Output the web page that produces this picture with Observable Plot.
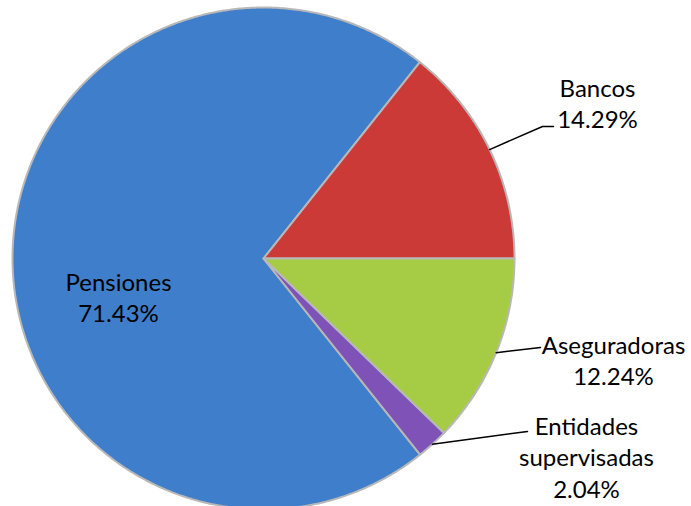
<!DOCTYPE html>
<html><head><meta charset="utf-8">
<script src="https://cdn.jsdelivr.net/npm/d3@7"></script>
<script src="https://cdn.jsdelivr.net/npm/@observablehq/plot@0.6"></script>
<style>body{margin:0;background:#fff}</style>
</head><body><div id="chart"></div>
<script>
// Data
const categories = ["Bancos", "Aseguradoras", "Entidades supervisadas", "Pensiones"];
const values = [14.29, 12.24, 2.04, 71.43];
const labelTexts = ["Bancos\n14.29%", "Aseguradoras\n12.24%", "Entidades\nsupervisadas\n2.04%", "Pensiones\n71.43%"];
const colors = ["#cc3a37", "#a6cc45", "#7e52b6", "#3e7ecb"];

// Layout (pixels)
const W = 691, H = 506, CX = 263, CY = 258, R = 251;
const labelPos = [[597, 101.8], [613, 358.8], [586, 456], [118, 296.3]];
const leaderElbow = [[[542, 126], [553, 126]], [[540, 347]], [[527, 431]], null];

const toX = px => (px - CX) / R, toY = py => (CY - py) / R;
const total = d3.sum(values);
const start = Math.PI / 2 - 2 * Math.PI * values[0] / total;
const arcs = d3.pie().sort(null).value(d => d).startAngle(start).endAngle(start + 2 * Math.PI)(values);

const polys = [];
const order = [3, 0, 1, 2];
order.forEach(i => {
  const a = arcs[i];
  polys.push({cat: categories[i], x: 0, y: 0});
  const n = Math.max(4, Math.ceil((a.endAngle - a.startAngle) / (Math.PI / 360)));
  for (let k = 0; k <= n; k++) {
    const t = a.startAngle + (a.endAngle - a.startAngle) * k / n;
    polys.push({cat: categories[i], x: Math.sin(t), y: Math.cos(t)});
  }
});

const leaders = [];
arcs.forEach((a, i) => {
  if (!leaderElbow[i]) return;
  const m = (a.startAngle + a.endAngle) / 2;
  leaders.push({id: i, x: Math.sin(m), y: Math.cos(m)});
  leaderElbow[i].forEach(([px, py]) => leaders.push({id: i, x: toX(px), y: toY(py)}));
});

const labels = labelTexts.map((t, i) => ({text: t, x: toX(labelPos[i][0]), y: toY(labelPos[i][1])}));

const chart = Plot.plot({
  width: W, height: H, margin: 0,
  x: {domain: [toX(0), toX(W)], range: [0, W], axis: null},
  y: {domain: [toY(H), toY(0)], range: [H, 0], axis: null},
  color: {domain: categories, range: colors},
  style: {fontFamily: "Lato, sans-serif", background: "#fff"},
  marks: [
    Plot.line(polys, {x: "x", y: "y", z: "cat", fill: "cat", stroke: "#b8b8b8", strokeWidth: 2, curve: "linear-closed", strokeLinejoin: "round"}),
    Plot.line(leaders, {x: "x", y: "y", z: "id", stroke: "#000", strokeWidth: 1.5}),
    Plot.text(labels, {x: "x", y: "y", text: "text", fontSize: 24, lineHeight: 1.3, fill: "#000", textAnchor: "middle"})
  ]
});
document.getElementById("chart").appendChild(chart);
</script>
</body></html>
